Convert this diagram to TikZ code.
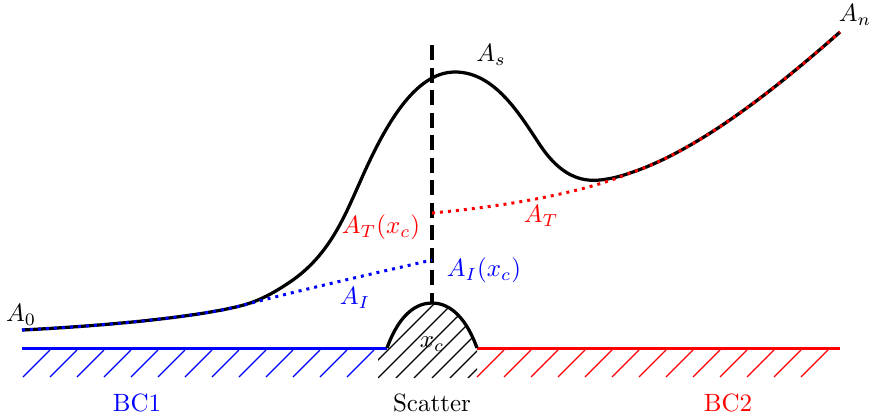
\documentclass[tikz,border=0pt]{standalone}
\begin{document}
\begin{tikzpicture}[x=0.4pt,y=-0.4pt]
\useasboundingbox (0,0) rectangle (871,414);
\tikzset{
  curve/.style={line width=1.3pt, line join=round},
  bdot/.style={blue, line width=1.2pt, dotted},
  rdot/.style={red, line width=1.2pt, dotted},
  wall/.style={line width=1.2pt},
  hatch/.style={line width=0.45pt},
  lbl/.style={inner sep=1pt}
}
% walls
\coordinate (b0) at (22,348);
\coordinate (b1) at (387,348);
\coordinate (r0) at (477,348);
\coordinate (r1) at (840,348);
\coordinate (peak) at (432,303);
\coordinate (dtop) at (432,45);
\draw[wall, blue] (b0) -- (b1);
\draw[wall, red] (r0) -- (r1);
\foreach \x in {23,50,...,350} \draw[hatch, blue] (\x,377) -- ++(27,-27);
\foreach \x in {477,504,...,810} \draw[hatch, red] (\x,377) -- ++(27,-27);
% scatter hatch
\begin{scope}
  \clip (378,378) -- (378,348) -- (387,348) .. controls (400,312) and (418,303) .. (432,303)
        .. controls (446,303) and (464,312) .. (477,348) -- (477,378) -- cycle;
  \foreach \x in {306,324,...,470} \draw[hatch] (\x,378) -- ++(120,-120);
\end{scope}
\draw[curve] (b1) .. controls (400,312) and (418,303) .. (peak)
      .. controls (446,303) and (464,312) .. (r0);
% dashed line
\draw[line width=1.5pt, dash pattern=on 6pt off 3pt] (dtop) -- (peak);
% main curve
\coordinate (p0) at (22,330);
\coordinate (p1) at (240,306);
\coordinate (pn) at (840,32);
\coordinate (pj) at (630,173);
\coordinate (ai0) at (432,260);
\coordinate (at0) at (432,213);
\draw[curve] (p0) .. controls (120,325) and (200,316) .. (p1)
  .. controls (260,301) and (275,292) .. (290,282)
  .. controls (330,255) and (345,215) .. (360,182)
  .. controls (385,125) and (415,72) .. (455,72)
  .. controls (495,72) and (520,115) .. (540,145)
  .. controls (560,175) and (580,182) .. (600,180)
  .. controls (610,179) and (620,176.5) .. (pj)
  .. controls (700,150) and (780,85) .. (pn);
% dotted
\draw[bdot] (p0) .. controls (120,325) and (200,316) .. (p1)
  .. controls (300,290) and (380,272) .. (ai0);
\draw[rdot] (at0) .. controls (520,205) and (590,190) .. (pj)
  .. controls (700,150) and (780,85) .. (pn);
% labels
\node[lbl] (a0) at (21,315) {$A_0$};
\node[lbl] (an) at (855,15) {$A_n$};
\node[lbl] (as) at (491,55) {$A_s$};
\node[lbl, text=red] (atxc) at (381,227) {$A_T(x_c)$};
\node[lbl, text=red] (at) at (541,216) {$A_T$};
\node[lbl, text=blue] (aixc) at (484,270) {$A_I(x_c)$};
\node[lbl, text=blue] (ai) at (355,298) {$A_I$};
\node[lbl] (xc) at (432,344) {$x_c$};
\node[lbl, text=blue] (bc1) at (137,403) {BC1};
\node[lbl] (sc) at (432,403) {Scatter};
\node[lbl, text=red] (bc2) at (728,403) {BC2};
\end{tikzpicture}
\end{document}
